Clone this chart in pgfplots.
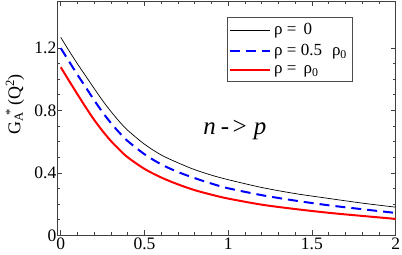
\documentclass[border=0pt]{standalone}
\usepackage{pgfplots}
\pgfplotsset{compat=1.18}
\usepackage{fontspec}
\setmainfont{Liberation Serif}
\begin{document}
\begin{tikzpicture}
\begin{axis}[
  at={(0,0)}, anchor=south west,
  scale only axis,
  width=338.5pt, height=234.5pt,
  xmin=-0.02, xmax=2, ymin=0, ymax=1.5,
  xtick={0,0.5,1,1.5,2},
  ytick={0,0.4,0.8,1.2},
  minor x tick num=4,
  minor y tick num=3,
  tick align=inside,
  xtick pos=both, ytick pos=both,
  major tick length=5pt, minor tick length=3pt,
  axis line style={line width=0.8pt, black!75},
  every tick/.style={black!75, line width=0.6pt},
  /pgf/number format/assume math mode=true,
  tick label style={font=\rmfamily\fontsize{17.5}{17.5}\selectfont},
  yticklabel style={inner sep=1pt},
  xticklabel style={inner sep=2pt},
  legend style={at={(0.5016,0.93)}, anchor=north west, draw=black!70,
    font=\rmfamily\fontsize{17}{18}\selectfont, legend cell align=left,
    row sep=6.2pt, inner xsep=2pt, inner ysep=5pt,
    nodes={inner xsep=3pt, inner ysep=1pt},
    /tikz/every even column/.append style={column sep=0pt}},
  legend image code/.code={\draw[#1] (0pt,0pt) -- (40pt,0pt);},
  clip=true,
]
\addplot[black, line width=0.7pt, smooth] coordinates {
(0,1.267) (0.05,1.180) (0.1,1.097) (0.15,1.018) (0.2,0.939) (0.25,0.862)
(0.3,0.792) (0.35,0.728) (0.4,0.672) (0.5,0.583) (0.6,0.514) (0.7,0.464)
(0.8,0.420) (0.9,0.385) (1.0,0.356) (1.2,0.306) (1.4,0.267) (1.6,0.236)
(1.8,0.206) (2.0,0.180)};
\addlegendentry{ρ =\hspace{7pt}0}
\addplot[blue, line width=2pt, dash pattern=on 10pt off 6pt, smooth] coordinates {
(0,1.198) (0.05,1.112) (0.1,1.027) (0.15,0.946) (0.2,0.864) (0.25,0.787)
(0.3,0.718) (0.35,0.657) (0.4,0.603) (0.5,0.519) (0.6,0.454) (0.7,0.405)
(0.8,0.366) (0.9,0.331) (1.0,0.301) (1.2,0.257) (1.4,0.222) (1.6,0.192)
(1.8,0.167) (2.0,0.143)};
\addlegendentry{ρ = 0.5\hspace{10pt}ρ\textsubscript{0}}
\addplot[red, line width=2pt, smooth] coordinates {
(0,1.076) (0.05,0.988) (0.1,0.902) (0.15,0.818) (0.2,0.738) (0.25,0.667)
(0.3,0.603) (0.35,0.548) (0.4,0.499) (0.5,0.425) (0.6,0.370) (0.7,0.326)
(0.8,0.289) (0.9,0.260) (1.0,0.235) (1.2,0.196) (1.4,0.168) (1.6,0.144)
(1.8,0.124) (2.0,0.105)};
\addlegendentry{ρ =\hspace{7pt}ρ\textsubscript{0}}
\node[anchor=base, font=\rmfamily\fontsize{25}{25}\selectfont\itshape] at (axis cs:1.04,0.643) {n\hspace{5pt}-\kern2pt>\hspace{6pt}p};
\coordinate (sw) at (rel axis cs:0,0);
\coordinate (ml) at (rel axis cs:0,0.56);
\end{axis}
\node[rotate=90, font=\rmfamily\fontsize{18}{18}\selectfont] at ([xshift=-42.5pt]ml) {G\textsubscript{A}\kern-0.35em\textsuperscript{\,*}\,(Q\textsuperscript{2})};
\path ([xshift=-57.5pt,yshift=-19.5pt]sw) rectangle ++(402pt,255pt);
\end{tikzpicture}
\end{document}
